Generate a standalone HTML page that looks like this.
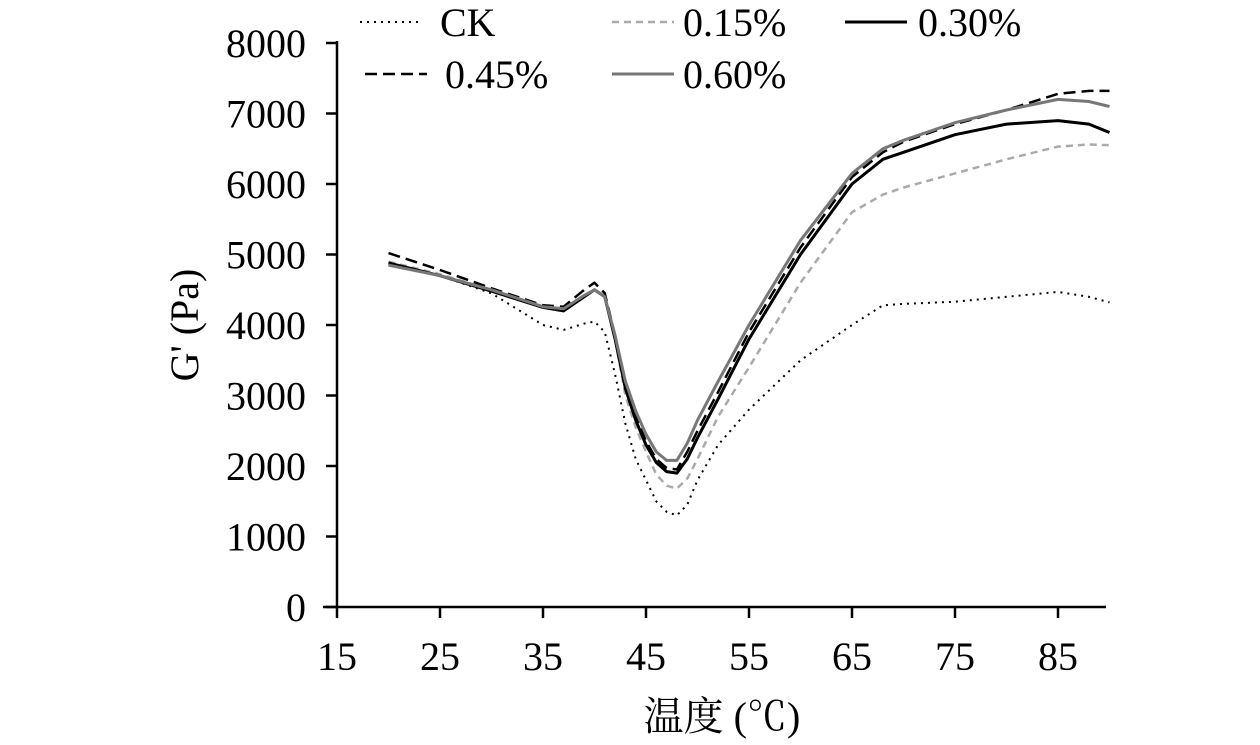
<!DOCTYPE html>
<html><head><meta charset="utf-8"><style>
body{margin:0;background:#fff}
svg text{font-family:"Liberation Serif","Noto Serif CJK SC",serif;fill:#000}
</style></head><body>
<svg id="chart" width="1260" height="740" xmlns="http://www.w3.org/2000/svg">
<g id="axes"></g><g id="series"></g><g id="legend"></g>
<text x="198" y="325" font-size="40" text-anchor="middle" transform="rotate(-90 198 325)">G' (Pa)</text>
<text x="722" y="730" font-size="40" text-anchor="middle">温度 (℃)</text>
</svg>
<script>
const xTicks=[15,25,35,45,55,65,75,85];
const yTicks=[0,1000,2000,3000,4000,5000,6000,7000,8000];
const temps=[20,25,30,35,37,39,40,41,42,43,44,45,46,47,48,49,50,52,55,60,65,68,70,75,80,85,88,90];
const ck=[4880,4700,4450,4000,3930,4020,4050,3900,3300,2600,2100,1800,1500,1350,1300,1450,1800,2300,2800,3500,4000,4280,4300,4330,4400,4470,4400,4320];
const p15=[4900,4720,4500,4250,4220,4400,4500,4400,3800,3000,2550,2200,1880,1720,1680,1820,2100,2700,3400,4600,5600,5850,5950,6150,6350,6530,6560,6550];
const p30=[4880,4700,4480,4250,4200,4400,4500,4400,3800,3100,2650,2300,2050,1920,1900,2100,2400,2950,3800,5000,6000,6350,6450,6700,6850,6900,6850,6730];
const p45=[5020,4780,4520,4280,4260,4500,4600,4450,3850,3150,2700,2350,2100,1970,1950,2200,2500,3050,3900,5100,6100,6450,6600,6850,7050,7280,7320,7320];
const p60=[4850,4700,4500,4260,4230,4420,4500,4400,3850,3200,2780,2450,2200,2080,2080,2320,2650,3200,4000,5200,6150,6500,6620,6870,7050,7200,7170,7100];
const seriesNames=["CK","0.15%","0.30%","0.45%","0.60%"];
const NS="http://www.w3.org/2000/svg";
const X=v=>337+(v-15)*10.3, Y=v=>607-v*0.0705;
function mk(t,a,p){const e=document.createElementNS(NS,t);for(const k in a)e.setAttribute(k,a[k]);if(p)p.appendChild(e);return e;}
const ax=document.getElementById('axes');
const yl=mk('line',{x1:337,y1:41,x2:337,y2:607,stroke:'#000','stroke-width':2.5},ax);


const xl=mk('line',{x1:323,y1:607,x2:1106,y2:607,stroke:'#000','stroke-width':2.5},ax);


xTicks.forEach(t=>{mk('line',{x1:X(t),y1:607,x2:X(t),y2:618,stroke:'#000','stroke-width':2.5},ax);
const tx=mk('text',{x:X(t),y:670,'font-size':40,'text-anchor':'middle'},ax);tx.textContent=t;

});
yTicks.forEach(t=>{mk('line',{x1:326,y1:Y(t),x2:337,y2:Y(t),stroke:'#000','stroke-width':2.5},ax);
const tx=mk('text',{x:306,y:Y(t)+14,'font-size':40,'text-anchor':'end'},ax);tx.textContent=t;

});
const styles=[{c:'#000',d:'2 5',w:2},{c:'#aaa',d:'7 5',w:2.5},{c:'#000',d:'',w:3},{c:'#000',d:'12 6',w:2.5},{c:'#777',d:'',w:3}];
const data=[ck,p15,p30,p45,p60];
const sg=document.getElementById('series');
data.forEach((s,i)=>{const d=s.map((v,j)=>(j?'L':'M')+X(temps[j]).toFixed(1)+' '+Y(v).toFixed(1)).join(' ');
const p=mk('path',{d:d,fill:'none',stroke:styles[i].c,'stroke-width':styles[i].w,'stroke-dasharray':styles[i].d,'stroke-linejoin':'round'},sg);

});
const lg=document.getElementById('legend');
const lp=[[360,22,440],[612,22,683],[845,22,918],[365,74,445],[612,74,683]];
lp.forEach((q,i)=>{const g=mk('g',{},lg);


mk('line',{x1:q[0],y1:q[1],x2:q[0]+62,y2:q[1],stroke:styles[i].c,'stroke-width':styles[i].w,'stroke-dasharray':styles[i].d},g);
const t=mk('text',{x:q[2],y:q[1]+14,'font-size':40},g);t.textContent=seriesNames[i];});
</script>
</body></html>
